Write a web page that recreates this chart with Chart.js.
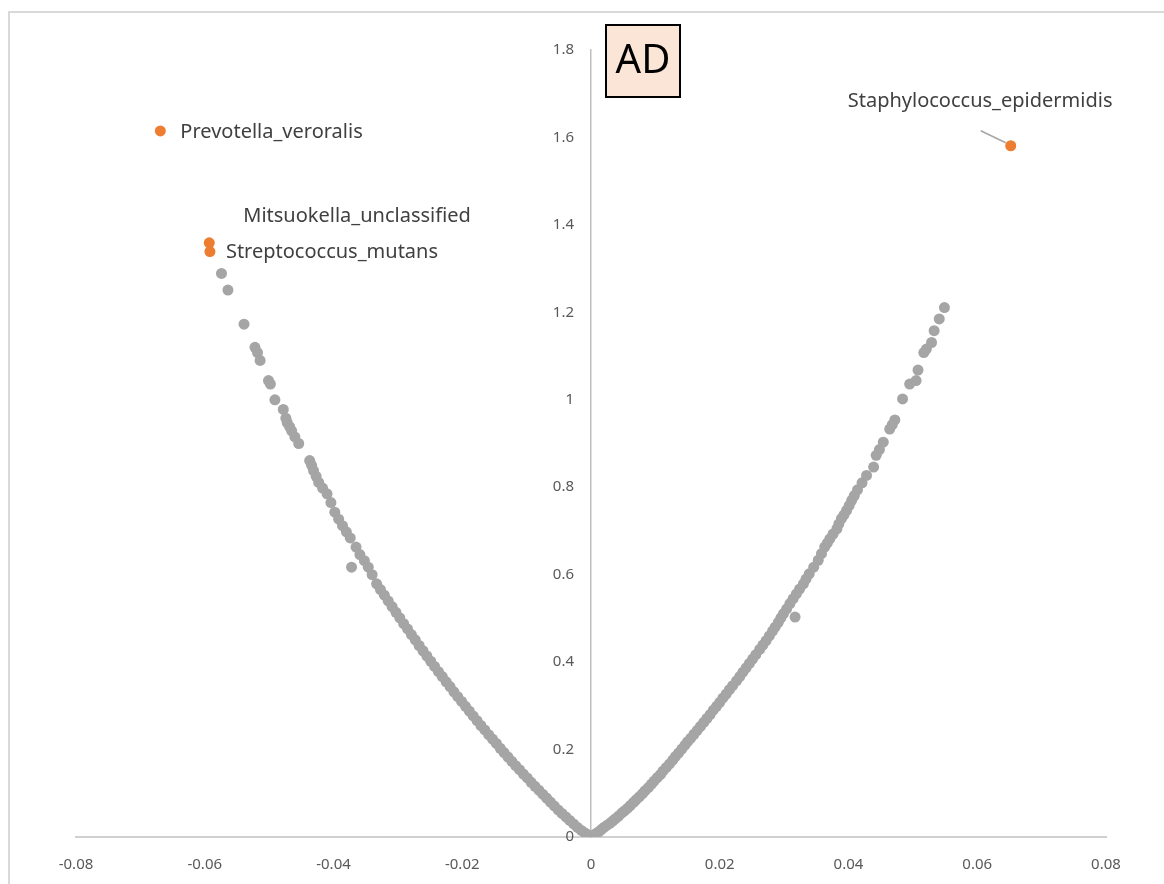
<!DOCTYPE html>
<html>
<head>
<meta charset="utf-8">
<script src="https://cdn.jsdelivr.net/npm/chart.js@4.4.1/dist/chart.umd.min.js"></script>
<style>
  html, body { margin: 0; padding: 0; background: #ffffff; }
  #volcano { display: block; }
</style>
</head>
<body>
<canvas id="volcano" width="1164" height="884"></canvas>
<script>
// tick values
const xTickValues = [-0.08, -0.06, -0.04, -0.02, 0, 0.02, 0.04, 0.06, 0.08];
const yTickValues = [0, 0.2, 0.4, 0.6, 0.8, 1, 1.2, 1.4, 1.6, 1.8];

// grey points, left arm
const leftX = [
  -0.0574, -0.0564, -0.0539, -0.0522, -0.0518, -0.0514, -0.0501, -0.0498, -0.0491, -0.0478,
  -0.0474, -0.0472, -0.0468, -0.0465, -0.0460, -0.0454, -0.0437, -0.0434, -0.0431, -0.0427,
  -0.0423, -0.0417, -0.0410, -0.0404, -0.0398, -0.0392, -0.0386, -0.0380, -0.0374, -0.0372,
  -0.0365, -0.0359, -0.0352, -0.0346, -0.0340, -0.0333, -0.0327, -0.0321, -0.0315, -0.0309,
  -0.0303, -0.0297, -0.0291, -0.0285, -0.0279, -0.0273, -0.0267, -0.0261, -0.0255, -0.0249,
  -0.0243, -0.0237, -0.0231, -0.0225, -0.0219, -0.0213, -0.0207, -0.0201, -0.0195, -0.0189,
  -0.0183, -0.0177, -0.0171, -0.0165, -0.0159, -0.0153, -0.0147, -0.0141, -0.0135, -0.0129,
  -0.0123, -0.0117, -0.0111, -0.0105, -0.0099, -0.0093, -0.0087, -0.0081, -0.0075, -0.0069,
  -0.0063, -0.0057, -0.0051, -0.0045, -0.0039, -0.0033, -0.0027, -0.0021, -0.0015, -0.0009,
  -0.0004
];
const leftY = [
  1.289, 1.251, 1.173, 1.120, 1.108, 1.090, 1.044, 1.036, 1.000, 0.978,
  0.958, 0.948, 0.938, 0.929, 0.915, 0.900, 0.861, 0.850, 0.838, 0.825,
  0.811, 0.798, 0.785, 0.765, 0.743, 0.727, 0.712, 0.698, 0.684, 0.617,
  0.663, 0.646, 0.632, 0.617, 0.600, 0.579, 0.566, 0.553, 0.540, 0.527,
  0.514, 0.501, 0.488, 0.476, 0.463, 0.451, 0.438, 0.426, 0.414, 0.402,
  0.390, 0.378, 0.367, 0.355, 0.344, 0.332, 0.321, 0.310, 0.299, 0.288,
  0.277, 0.266, 0.255, 0.245, 0.234, 0.224, 0.214, 0.203, 0.193, 0.183,
  0.173, 0.163, 0.154, 0.144, 0.135, 0.125, 0.116, 0.107, 0.098, 0.089,
  0.080, 0.071, 0.062, 0.054, 0.046, 0.038, 0.030, 0.022, 0.015, 0.009,
  0.004
];

// grey points, right arm
const rightX = [
  0.0000, 0.0004, 0.0008, 0.0012, 0.0016, 0.0020, 0.0025, 0.0030, 0.0034, 0.0038,
  0.0043, 0.0048, 0.0052, 0.0057, 0.0061, 0.0066, 0.0070, 0.0075, 0.0080, 0.0084,
  0.0089, 0.0094, 0.0098, 0.0103, 0.0108, 0.0112, 0.0117, 0.0122, 0.0127, 0.0131,
  0.0136, 0.0141, 0.0146, 0.0150, 0.0155, 0.0160, 0.0165, 0.0170, 0.0175, 0.0180,
  0.0185, 0.0190, 0.0195, 0.0200, 0.0205, 0.0210, 0.0215, 0.0220, 0.0226, 0.0231,
  0.0236, 0.0241, 0.0246, 0.0251, 0.0256, 0.0262, 0.0267, 0.0272, 0.0277, 0.0282,
  0.0286, 0.0291, 0.0295, 0.0299, 0.0304, 0.0309, 0.0314, 0.0317, 0.0319, 0.0324,
  0.0330, 0.0334, 0.0339, 0.0346, 0.0353, 0.0358, 0.0363, 0.0367, 0.0371, 0.0376,
  0.0382, 0.0385, 0.0389, 0.0393, 0.0397, 0.0401, 0.0405, 0.0409, 0.0414, 0.0421,
  0.0428, 0.0439, 0.0443, 0.0448, 0.0454, 0.0464, 0.0468, 0.0472, 0.0484, 0.0495,
  0.0505, 0.0508, 0.0517, 0.0521, 0.0529, 0.0533, 0.0541, 0.0549
];
const rightY = [
  0.000, 0.004, 0.008, 0.012, 0.017, 0.022, 0.027, 0.032, 0.037, 0.042,
  0.048, 0.055, 0.060, 0.066, 0.072, 0.079, 0.085, 0.092, 0.099, 0.106,
  0.113, 0.121, 0.128, 0.136, 0.143, 0.151, 0.159, 0.167, 0.176, 0.184,
  0.192, 0.201, 0.210, 0.218, 0.226, 0.235, 0.244, 0.253, 0.262, 0.271,
  0.280, 0.290, 0.299, 0.308, 0.318, 0.327, 0.337, 0.346, 0.357, 0.367,
  0.377, 0.387, 0.397, 0.407, 0.417, 0.429, 0.439, 0.449, 0.460, 0.471,
  0.480, 0.491, 0.501, 0.511, 0.522, 0.534, 0.545, 0.503, 0.556, 0.567,
  0.579, 0.590, 0.602, 0.617, 0.633, 0.648, 0.663, 0.672, 0.682, 0.693,
  0.705, 0.716, 0.728, 0.737, 0.747, 0.758, 0.770, 0.781, 0.794, 0.810,
  0.827, 0.846, 0.873, 0.886, 0.903, 0.933, 0.943, 0.954, 1.002, 1.036,
  1.044, 1.068, 1.108, 1.116, 1.131, 1.158, 1.185, 1.211
];

// highlighted (orange) species
const hiNames = ["Prevotella_veroralis", "Mitsuokella_unclassified", "Streptococcus_mutans", "Staphylococcus_epidermidis"];
const hiX = [-0.0669, -0.0593, -0.0592, 0.0652];
const hiY = [1.615, 1.359, 1.339, 1.581];

const greyPts = leftX.map((x, i) => ({ x: x, y: leftY[i] }))
  .concat(rightX.map((x, i) => ({ x: x, y: rightY[i] })));
const hiPts = hiX.map((x, i) => ({ x: x, y: hiY[i] }));

// label offsets from the point, in px
const labelOffsets = [
  { dx: 20, dy: 1 },
  { dx: 34, dy: -27 },
  { dx: 16, dy: 1 },
  { dx: -163, dy: -44 }
];

const fmt = v => String(Number(Number(v).toFixed(3)));

const decorPlugin = {
  id: "decor",
  beforeDraw(chart) {
    const c = chart.ctx;
    c.save();
    c.strokeStyle = "#d9d9d9";
    c.lineWidth = 2;
    c.strokeRect(9, 12, 1400, 1200);
    c.restore();
  },
  afterDatasetsDraw(chart) {
    const c = chart.ctx;
    const xs = chart.scales.x, ys = chart.scales.y;
    c.save();

    // y tick labels, left of the centred axis
    c.font = "15px 'Noto Sans'";
    c.fillStyle = "#595959";
    c.textAlign = "right";
    c.textBaseline = "middle";
    const axisX = xs.getPixelForValue(0);
    yTickValues.forEach(v => {
      c.fillText(fmt(v), axisX - 17, ys.getPixelForValue(v));
    });

    // data labels
    const meta = chart.getDatasetMeta(1);
    c.font = "20px 'Noto Sans'";
    c.fillStyle = "#404040";
    c.textAlign = "left";
    c.textBaseline = "middle";
    meta.data.forEach((pt, i) => {
      const o = labelOffsets[i];
      c.fillText(hiNames[i], pt.x + o.dx, pt.y + o.dy);
    });
    // leader line for the right-hand label
    const p = meta.data[3];
    c.strokeStyle = "#a6a6a6";
    c.lineWidth = 1.5;
    c.beginPath();
    c.moveTo(p.x - 30, p.y - 15);
    c.lineTo(p.x - 5, p.y - 3);
    c.stroke();

    // "AD" box
    c.fillStyle = "#fbe5d6";
    c.fillRect(606, 25, 74, 72);
    c.strokeStyle = "#000000";
    c.lineWidth = 2;
    c.strokeRect(606, 25, 74, 72);
    c.fillStyle = "#000000";
    c.font = "40px 'Noto Sans'";
    c.textAlign = "center";
    c.textBaseline = "middle";
    c.fillText("AD", 643, 62);
    c.restore();
  }
};

const tickFont = { family: "'Noto Sans'", size: 15 };

new Chart(document.getElementById("volcano").getContext("2d"), {
  type: "scatter",
  data: {
    datasets: [
      {
        label: "all",
        data: greyPts,
        backgroundColor: "#a5a5a5",
        borderWidth: 0,
        pointRadius: 5.5
      },
      {
        label: "highlighted",
        data: hiPts,
        backgroundColor: "#ed7d31",
        borderWidth: 0,
        pointRadius: 5.5
      }
    ]
  },
  options: {
    responsive: false,
    animation: false,
    layout: { padding: { left: 76, right: 58, top: 50, bottom: 47 } },
    plugins: {
      legend: { display: false },
      tooltip: { enabled: false }
    },
    scales: {
      x: {
        type: "linear",
        position: { y: 0 },
        min: -0.08,
        max: 0.08,
        afterBuildTicks: s => { s.ticks = xTickValues.map(v => ({ value: v })); },
        grid: { display: false, drawTicks: false },
        border: { display: true, color: "#d0d0d0", width: 2 },
        ticks: { font: tickFont, color: "#595959", padding: 19, maxRotation: 0, callback: v => fmt(v) }
      },
      y: {
        type: "linear",
        position: { x: 0 },
        min: 0,
        max: 1.8,
        afterBuildTicks: s => { s.ticks = yTickValues.map(v => ({ value: v })); },
        grid: { display: false, drawTicks: false },
        border: { display: true, color: "#bfbfbf", width: 1.5 },
        ticks: { display: false }
      }
    }
  },
  plugins: [decorPlugin]
});
</script>
</body>
</html>
